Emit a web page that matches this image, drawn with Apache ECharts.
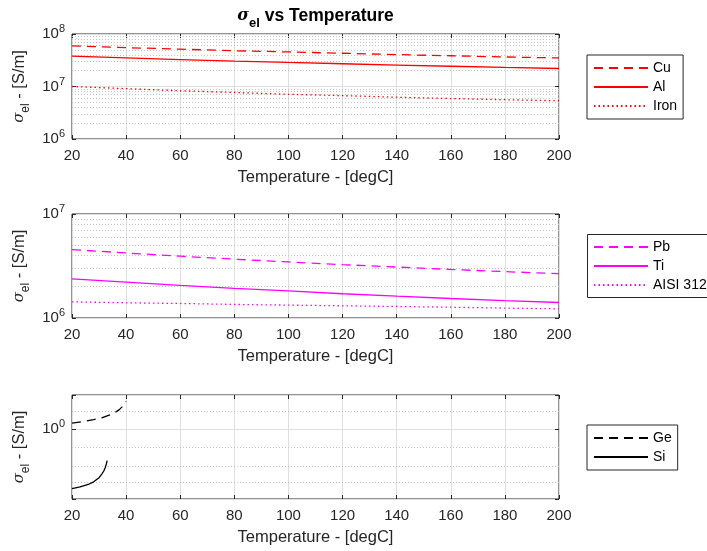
<!DOCTYPE html>
<html>
<head>
<meta charset="utf-8">
<script src="https://cdn.jsdelivr.net/npm/echarts@6/dist/echarts.min.js"></script>
<style>
  html, body { margin: 0; padding: 0; background: #fff; }
  #chart { width: 707px; height: 551px; }
</style>
</head>
<body>
<div id="chart"></div>
<script>
// Electrical conductivity vs temperature, sampled every 20 degC
const temps = [20, 40, 60, 80, 100, 120, 140, 160, 180, 200];

// Metals (top panel), S/m
const cu   = [5.95e7, 5.5e7, 5.15e7, 4.8e7, 4.55e7, 4.3e7, 4.05e7, 3.85e7, 3.65e7, 3.5e7];
const al   = [3.78e7, 3.5e7, 3.26e7, 3.05e7, 2.87e7, 2.71e7, 2.56e7, 2.43e7, 2.31e7, 2.2e7];
const iron = [1.0e7, 9.1e6, 8.3e6, 7.7e6, 7.1e6, 6.7e6, 6.25e6, 5.9e6, 5.6e6, 5.35e6];

// Poorer conductors (middle panel), S/m
const pb   = [4.55e6, 4.22e6, 3.93e6, 3.68e6, 3.46e6, 3.26e6, 3.09e6, 2.93e6, 2.79e6, 2.67e6];
const ti   = [2.38e6, 2.21e6, 2.06e6, 1.93e6, 1.82e6, 1.71e6, 1.62e6, 1.54e6, 1.47e6, 1.41e6];
const aisi = [1.43e6, 1.40e6, 1.38e6, 1.35e6, 1.33e6, 1.31e6, 1.29e6, 1.27e6, 1.245e6, 1.225e6];

// Semiconductors (bottom panel), S/m, only over their valid temperature span
const geTemps = [20, 24, 28, 31, 34, 36, 37.5, 38.5, 39.3, 40];
const ge      = [1.037, 1.047, 1.06, 1.072, 1.092, 1.11, 1.13, 1.15, 1.17, 1.19];
const siTemps = [20, 23, 26, 28, 30, 31, 31.8, 32.3, 32.7, 33];
const si      = [0.684, 0.691, 0.702, 0.714, 0.733, 0.75, 0.766, 0.782, 0.8, 0.817];

// Axis ranges and minor grid positions
const yRanges = [[1e6, 1e8], [1e6, 1e7], [0.64, 1.24]];
const minorGrid = [
  [2, 3, 4, 5, 6, 7, 8, 9].flatMap(m => [m * 1e6, m * 1e7]),
  [2, 3, 4, 5, 6, 7, 8, 9].map(m => m * 1e6),
  [1.12, 0.89, 0.79, 0.71]
];

const FONT = 'Liberation Sans, Arial, Helvetica, sans-serif';
const AX = '#262626';
const GRID = '#dfdfdf';
const MINOR = '#c4c4c4';
const RED = '#ff0000';
const MAG = '#ff00ff';
const BLK = '#000000';

const DASH = [9, 6];
const DOT = [1.5, 3];

const grids = [
  { left: 72, top: 34, width: 487, height: 105 },
  { left: 72, top: 214, width: 487, height: 104 },
  { left: 72, top: 395, width: 487, height: 104 }
].map(g => Object.assign(g, {
  show: true, borderColor: AX, borderWidth: 1, backgroundColor: '#fff', containLabel: false
}));

function powLabel(v) {
  const e = Math.log10(v);
  const r = Math.round(e);
  if (Math.abs(e - r) > 1e-6) return '';
  return '{b|10}{e|' + r + '}';
}

const sigmaRich = {
  g: { fontFamily: 'DejaVu Serif', fontStyle: 'italic', fontSize: 15, color: AX },
  sub: { fontFamily: FONT, fontSize: 12, color: AX, padding: [12, 0, 0, 0] },
  n: { fontFamily: FONT, fontSize: 16.5, color: AX }
};

const xAxes = [];
const yAxes = [];
for (let g = 0; g < 3; g++) {
  xAxes.push({
    type: 'value', gridIndex: g, min: 20, max: 200, interval: 20, position: 'bottom',
    axisLine: { show: false },
    axisTick: { inside: true, length: 4, lineStyle: { color: AX } },
    axisLabel: { margin: 9, fontSize: 15, color: AX, fontFamily: FONT },
    splitLine: { show: true, lineStyle: { color: GRID, width: 1 } },
    name: 'Temperature - [degC]', nameLocation: 'middle', nameGap: 30,
    nameTextStyle: { fontSize: 16.5, color: AX, fontFamily: FONT }
  });
  xAxes.push({
    type: 'value', gridIndex: g, min: 20, max: 200, interval: 20, position: 'top',
    axisLine: { show: false },
    axisTick: { inside: true, length: 4, lineStyle: { color: AX } },
    axisLabel: { show: false }, splitLine: { show: false }
  });
  yAxes.push({
    type: 'log', logBase: 10, gridIndex: g, min: yRanges[g][0], max: yRanges[g][1], position: 'left',
    axisLine: { show: false },
    axisTick: { inside: true, length: 4, lineStyle: { color: AX } },
    axisLabel: {
      margin: 7, formatter: powLabel,
      rich: {
        b: { fontSize: 15, color: AX, fontFamily: FONT },
        e: { fontSize: 11, color: AX, fontFamily: FONT, padding: [0, 0, 10, 0] }
      }
    },
    splitLine: { show: true, lineStyle: { color: GRID, width: 1 } },
    name: '{g|σ}{sub|el}{n| - [S/m]}', nameLocation: 'middle', nameRotate: 90, nameGap: 37,
    nameTextStyle: { rich: sigmaRich }
  });
  yAxes.push({
    type: 'log', logBase: 10, gridIndex: g, min: yRanges[g][0], max: yRanges[g][1], position: 'right',
    axisLine: { show: false },
    axisTick: { inside: true, length: 4, lineStyle: { color: AX } },
    axisLabel: { show: false }, splitLine: { show: false }
  });
}

function minorMarks(g) {
  return {
    silent: true, symbol: ['none', 'none'], z: 1,
    label: { show: false },
    lineStyle: { color: MINOR, type: [1, 2], width: 1 },
    emphasis: { disabled: true },
    animation: false,
    data: minorGrid[g].map(v => ({ yAxis: v }))
  };
}

function line(name, g, xs, ys, color, type, withMinor) {
  const s = {
    name, type: 'line', xAxisIndex: g * 2, yAxisIndex: g * 2,
    data: xs.map((x, i) => [x, ys[i]]),
    symbol: 'none', showSymbol: false, smooth: false,
    lineStyle: { color, width: 1.3, type },
    itemStyle: { color },
    z: 3
  };
  if (withMinor) s.markLine = minorMarks(g);
  return s;
}

const series = [
  line('Cu', 0, temps, cu, RED, DASH, true),
  line('Al', 0, temps, al, RED, 'solid'),
  line('Iron', 0, temps, iron, RED, DOT),
  line('Pb', 1, temps, pb, MAG, DASH, true),
  line('Ti', 1, temps, ti, MAG, 'solid'),
  line('AISI 312', 1, temps, aisi, MAG, DOT),
  line('Ge', 2, geTemps, ge, BLK, DASH, true),
  line('Si', 2, siTemps, si, BLK, 'solid')
];

function legend(top, names, framed) {
  return {
    orient: 'vertical', left: 587, top, data: names,
    itemWidth: 54, itemHeight: 10, itemGap: 5,
    padding: [6, 6, 6, 6],
    borderColor: AX, borderWidth: framed ? 1 : 0,
    backgroundColor: framed ? '#fff' : 'transparent',
    selectedMode: false,
    // line sample only, no marker on it
    itemStyle: { opacity: 0, borderWidth: 0 },
    textStyle: { fontSize: 14, color: '#000', fontFamily: FONT }
  };
}

const chart = echarts.init(document.getElementById('chart'), null, { renderer: 'canvas' });
chart.setOption({
  animation: false,
  backgroundColor: '#fff',
  textStyle: { fontFamily: FONT },
  grid: grids,
  xAxis: xAxes,
  yAxis: yAxes,
  legend: [
    legend(55, ['Cu', 'Al', 'Iron'], true),
    legend(234, ['Pb', 'Ti', 'AISI 312'], false),
    legend(425, ['Ge', 'Si'], true)
  ],
  graphic: [
    {
      // frame of the middle legend, running past the right edge of the canvas
      type: 'rect', z: 0,
      shape: { x: 587.5, y: 234.5, width: 140, height: 63 },
      style: { fill: '#fff', stroke: AX, lineWidth: 1 }
    },
    {
      type: 'text', x: 315.5, y: 16,
      style: {
        text: '{g|σ}{sub|el}{t| vs Temperature}',
        align: 'center', verticalAlign: 'middle',
        textAlign: 'center', textVerticalAlign: 'middle',
        rich: {
          g: { fontFamily: 'DejaVu Serif', fontStyle: 'italic', fontWeight: 'bold', fontSize: 16, fill: '#000' },
          sub: { fontFamily: FONT, fontWeight: 'bold', fontSize: 13, fill: '#000', padding: [15, 0, 0, 0] },
          t: { fontFamily: FONT, fontWeight: 'bold', fontSize: 17.5, fill: '#000' }
        }
      }
    }
  ],
  series
});
</script>
</body>
</html>
